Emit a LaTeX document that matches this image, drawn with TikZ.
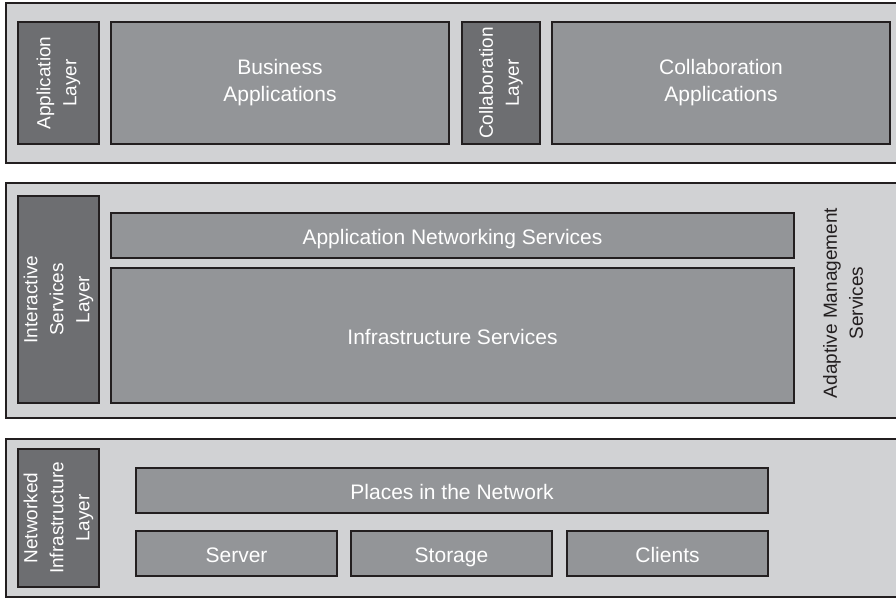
\documentclass[tikz,border=0pt]{standalone}
\usepackage{fontspec}
\setmainfont{Liberation Sans}
\definecolor{panelgray}{HTML}{D1D2D4}
\definecolor{boxgray}{HTML}{939598}
\definecolor{darkgray}{HTML}{6D6E71}
\definecolor{edge}{HTML}{231F20}
\begin{document}
\begin{tikzpicture}[x=1pt,y=-1pt,
  panel/.style={draw=edge,line width=2pt,fill=panelgray,rectangle,inner sep=0pt},
  box/.style={draw=edge,line width=2pt,fill=boxgray,rectangle,inner sep=0pt,
    text=white,align=center,font=\fontsize{21}{27}\selectfont},
  oneline/.style={box,text height=18pt,text depth=0pt},
  layerbox/.style={draw=edge,line width=2pt,fill=darkgray,rectangle,inner sep=0pt},
  vtext/.style={rotate=90,align=center,text=white,inner sep=0pt,
    font=\fontsize{19}{26}\selectfont},
  side/.style={rotate=90,align=center,text=edge,inner sep=0pt,
    font=\fontsize{19}{26}\selectfont}]
\useasboundingbox (0,0) rectangle (896,598);
% panels
\node[panel,minimum width=894pt,minimum height=160pt] (p1) at (453,83) {};
\node[panel,minimum width=894pt,minimum height=235pt] (p2) at (453,300.5) {};
\node[panel,minimum width=894pt,minimum height=158pt] (p3) at (453,518) {};
% application layer panel
\node[layerbox,minimum width=81pt,minimum height=122pt] (al) at (58.5,83) {};
\node[vtext] (alt) at (al.center) {Application\\Layer};
\node[box,minimum width=338pt,minimum height=122pt] (ba) at (280,83) {Business\\Applications};
\node[layerbox,minimum width=78pt,minimum height=122pt] (cl) at (501,83) {};
\node[vtext] (clt) at (cl.center) {Collaboration\\Layer};
\node[box,minimum width=338pt,minimum height=122pt] (ca) at (721,83) {Collaboration\\Applications};
% interactive services panel
\node[layerbox,minimum width=81pt,minimum height=207pt] (il) at (58.5,299.5) {};
\node[vtext] (ilt) at (il.center) {Interactive\\Services\\Layer};
\node[oneline,minimum width=683pt,minimum height=45pt] (ans) at (452.5,235.5) {Application Networking Services};
\node[oneline,minimum width=683pt,minimum height=135pt] (inf) at (452.5,335.5) {Infrastructure Services};
\node[side] (ams) at (843,303) {Adaptive Management\\Services};
% networked infrastructure panel
\node[layerbox,minimum width=81pt,minimum height=138pt] (nl) at (58.5,518) {};
\node[vtext] (nlt) at (nl.center) {Networked\\Infrastructure\\Layer};
\node[oneline,minimum width=632pt,minimum height=45pt] (pin) at (452,490.5) {Places in the Network};
\node[oneline,minimum width=201pt,minimum height=45pt] (srv) at (236.5,553.5) {Server};
\node[oneline,minimum width=201pt,minimum height=45pt] (sto) at (451.5,553.5) {Storage};
\node[oneline,minimum width=201pt,minimum height=45pt] (cli) at (667.5,553.5) {Clients};
\end{tikzpicture}
\end{document}
